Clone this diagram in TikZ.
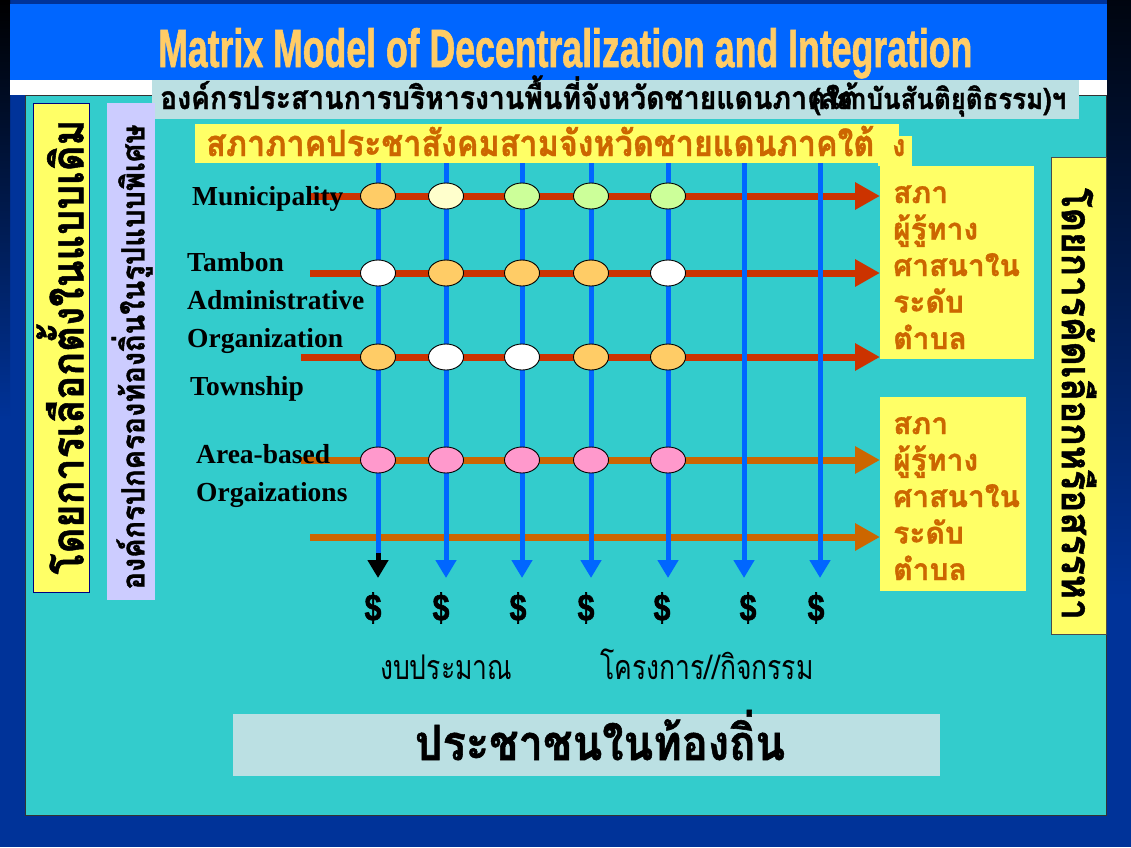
\documentclass[tikz,border=0pt]{standalone}
\usepackage{fontspec}
\newfontfamily\thai[Script=Thai]{Loma}
\newfontfamily\thaiB[Script=Thai,FakeBold=1.2]{Loma}
\newfontfamily\serifb{Liberation Serif}
\newfontfamily\sansb{Liberation Sans}
\newfontfamily\sansF[FakeBold=1.5]{Liberation Sans}
\usetikzlibrary{arrows.meta,shapes.geometric}
\definecolor{navy}{HTML}{003399}
\definecolor{bandblue}{HTML}{0066FF}
\definecolor{tealbg}{HTML}{33CCCC}
\definecolor{paleblue}{HTML}{BBE0E3}
\definecolor{yel}{HTML}{FFFF66}
\definecolor{lav}{HTML}{CCCCFF}
\definecolor{titleor}{HTML}{FFCC66}
\definecolor{brown}{HTML}{CC6600}
\definecolor{redline}{HTML}{CC3300}
\definecolor{vblue}{HTML}{0066FF}
\definecolor{eor}{HTML}{FFCC66}
\definecolor{eyel}{HTML}{FFFFCC}
\definecolor{egrn}{HTML}{CCFF99}
\definecolor{epink}{HTML}{FF99CC}
\tikzset{
  dot/.style={ellipse,draw=black,line width=0.9pt,minimum width=35pt,minimum height=26pt,inner sep=0pt},
  hline/.style={line width=7pt,-{Triangle[width=26pt,length=25pt]}},
  vline/.style={line width=5pt,draw=vblue,-{Triangle[width=20pt,length=18pt]}},
  lab/.style={font=\serifb\bfseries\fontsize{27.5}{27.5}\selectfont,anchor=base west,inner sep=0pt},
  side/.style={font=\thaiB\bfseries\fontsize{30}{30}\selectfont,text=brown,anchor=base west,inner sep=0pt},
  dollar/.style={inner sep=0pt},
}
\begin{document}
\begin{tikzpicture}[x=1pt,y=-1pt]
\useasboundingbox (0,0) rectangle (1131,847);
% background
\fill[navy] (0,0) rectangle (1131,847);
\shade[top color=black,bottom color=navy] (0,0) rectangle (10,420);
\shade[top color=black!90!navy,bottom color=navy] (1107,0) rectangle (1131,600);
\fill[bandblue] (10,4) rectangle (1107,80);
\fill[white] (10,80) rectangle (1107,95);
\fill[tealbg] (25,95) rectangle (1106,815);
\draw[black!80,line width=1pt] (25,95) rectangle (1106,815);
% title
\node[anchor=base west,inner sep=0pt,text=titleor] (title) at (158,67)
  {\resizebox{814pt}{39pt}{\sansF\bfseries Matrix Model of Decentralization and Integration}};
% top box
\fill[paleblue] (152,80) rectangle (1079,119);
\node[anchor=base west,inner sep=0pt] (org1) at (160,109)
  {\resizebox{698pt}{!}{\scalebox{1}[1.12]{\thaiB\bfseries องค์กรประสานการบริหารงานพื้นที่จังหวัดชายแดนภาคใต้}}};
\node[anchor=base west,inner sep=0pt] (org2) at (812,109)
  {\resizebox{254pt}{!}{\scalebox{1}[1.12]{\thaiB\bfseries (สถาบันสันติยุติธรรม)ฯ}}};
% left boxes
\fill[yel] (33,103) rectangle (89,592);
\draw[black!50!blue,line width=0.8pt] (33,103) rectangle (89,592);
\node[rotate=90,inner sep=0pt] (leftA) at (60,347)
  {\resizebox{455pt}{!}{\scalebox{1}[1.12]{\thaiB\bfseries โดยการเลือกตั้งในแบบเดิม}}};
\fill[lav] (107,103) rectangle (155,600);
\node[rotate=90,inner sep=0pt] (leftB) at (132,357)
  {\resizebox{465pt}{!}{\scalebox{1}[1.1]{\thaiB\bfseries องค์กรปกครองท้องถิ่นในรูปแบบพิเศษ}}};
% grid coordinates
\foreach \i/\x in {1/378,2/446,3/522,4/591,5/668,6/744,7/820}{
  \coordinate (t\i) at (\x,150);
  \coordinate (b\i) at (\x,578);
}
\foreach \r/\y/\xs in {1/196/310,2/273/310,3/357/301,4/460/301,5/537/310}{
  \coordinate (s\r) at (\xs,\y);
  \coordinate (e\r) at (880,\y);
}
% horizontal arrows
\draw[hline,draw=redline,fill=redline] (s1) -- (e1);
\draw[hline,draw=redline,fill=redline] (s2) -- (e2);
\draw[hline,draw=redline,fill=redline] (s3) -- (e3);
\draw[hline,draw=brown,fill=brown] (s4) -- (e4);
\draw[hline,draw=brown,fill=brown] (s5) -- (e5);
% vertical arrows
\coordinate (k1) at (378,553);
\draw[line width=5pt,draw=vblue] (t1) -- (k1);
\draw[line width=5pt,draw=black,-{Triangle[width=20pt,length=18pt]}] (k1) -- (b1);
\foreach \i in {2,...,7}{
  \draw[vline,fill=vblue] (t\i) -- (b\i);
}
% banner
\fill[yel] (195,124) rectangle (899,163);
\fill[yel] (878,136) rectangle (912,166);
\node[anchor=base west,inner sep=0pt,text=brown] (banner) at (206,156)
  {\resizebox{668pt}{!}{\scalebox{1}[1.12]{\thaiB\bfseries สภาภาคประชาสังคมสามจังหวัดชายแดนภาคใต้}}};
\node[anchor=base west,inner sep=0pt,text=brown] (bannerng) at (892,156)
  {\scalebox{1}[1.12]{\thaiB\bfseries\fontsize{27}{27}\selectfont ง}};
% right boxes
\fill[yel] (880,166) rectangle (1034,359);
\fill[yel] (880,397) rectangle (1026,591);
\foreach \t [count=\k] in {สภา,ผู้รู้ทาง,ศาสนาใน,ระดับ,ตำบล}{
  \node[side] (ra\k) at (893,{203+36.5*(\k-1)}) {\t};
  \node[side] (rb\k) at (893,{434+36.5*(\k-1)}) {\t};
}
\fill[yel] (1051,157) rectangle (1106,634);
\draw[black!70,line width=0.8pt] (1051,157) rectangle (1106,634);
\node[rotate=-90,inner sep=0pt] (rightV) at (1079,404)
  {\resizebox{432pt}{!}{\scalebox{1}[1.1]{\thaiB\bfseries โดยการคัดเลือกหรือสรรหา}}};
% ellipses
\foreach \c/\col in {1/eor,2/eyel,3/egrn,4/egrn,5/egrn}{
  \node[dot,fill=\col] (r1c\c) at (t\c |- s1) {};
}
\foreach \c/\col in {1/white,2/eor,3/eor,4/eor,5/white}{
  \node[dot,fill=\col] (r2c\c) at (t\c |- s2) {};
}
\foreach \c/\col in {1/eor,2/white,3/white,4/eor,5/eor}{
  \node[dot,fill=\col] (r3c\c) at (t\c |- s3) {};
}
\foreach \c in {1,...,5}{
  \node[dot,fill=epink] (r4c\c) at (t\c |- s4) {};
}
% labels
\node[lab] (lmun) at (192,205) {Municipality};
\node[lab] (ltam) at (187,271) {Tambon};
\node[lab] (ladm) at (187,309) {Administrative};
\node[lab] (lorg) at (187,347) {Organization};
\node[lab] (ltow) at (190,395) {Township};
\node[lab] (lare) at (196,463) {Area-based};
\node[lab] (lorz) at (196,501) {Orgaizations};
% dollars
\foreach \x [count=\k] in {373,441,518,586,662,748,816}{
  \node[dollar] (d\k) at (\x,608) {\scalebox{0.8}[1]{\sansF\bfseries\fontsize{38}{38}\selectfont\$}};
}
% bottom texts
\node[anchor=base west,inner sep=0pt] (budget) at (380,679)
  {\scalebox{0.78}[1]{\thai\fontsize{34}{34}\selectfont งบประมาณ}};
\node[anchor=base west,inner sep=0pt] (proj) at (600,679)
  {\scalebox{0.78}[1]{\thai\fontsize{34}{34}\selectfont โครงการ//กิจกรรม}};
\fill[paleblue] (233,714) rectangle (940,776);
\node[inner sep=0pt,anchor=base] (people) at (600,760)
  {\resizebox{370pt}{!}{\scalebox{1}[1.12]{\thaiB\bfseries ประชาชนในท้องถิ่น}}};
\end{tikzpicture}
\end{document}
